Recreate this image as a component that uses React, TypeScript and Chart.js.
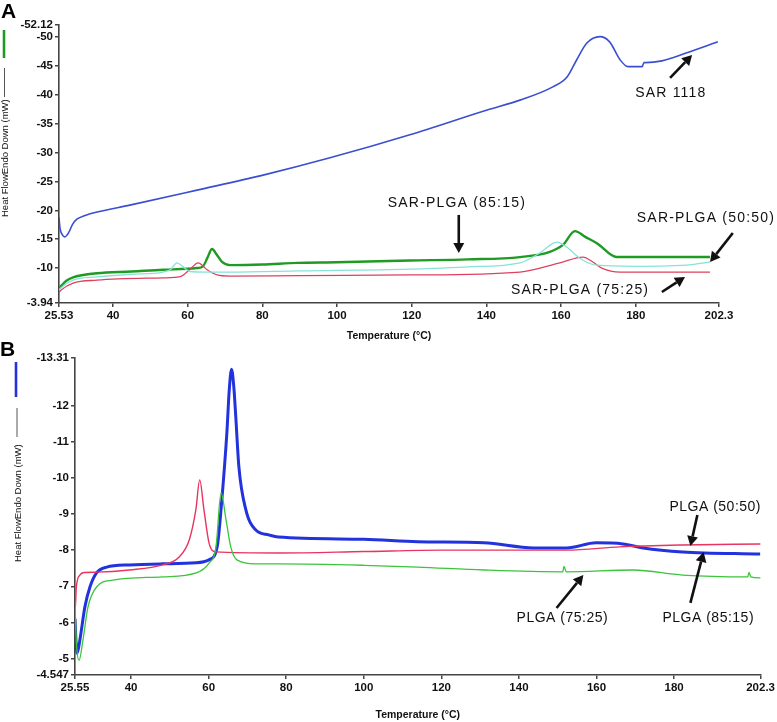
import React, { useEffect, useRef } from 'react';
import { Chart, registerables } from 'chart.js';
Chart.register(...registerables);

const FONT = "'Liberation Sans', Arial, Helvetica, sans-serif";

// ---------- Panel A data ----------
const xTicksA = [25.53, 40, 60, 80, 100, 120, 140, 160, 180, 202.3];
const yTicksA = [-52.12, -50, -45, -40, -35, -30, -25, -20, -15, -10, -3.94];

const sarT = [25.53, 25.8, 26.4, 27.1, 28.0, 29.2, 30.4, 32.5, 35.7, 44.5, 62.5, 80.2, 98.1, 119.5, 140.2, 149, 157.8, 161.6, 164.2, 166.9, 170.4, 173, 175.8, 177.9, 181.7, 182.2, 182.6, 187, 193.7, 202];
const sarY = [-18.8, -16.9, -15.8, -15.4, -16.0, -17.6, -18.5, -19.1, -19.7, -20.9, -23.5, -26.1, -29.1, -33.1, -37.4, -39.1, -41.4, -43.1, -46.1, -49.0, -50.1, -49.2, -46.1, -44.9, -44.9, -45.6, -45.6, -45.9, -47.3, -49.2];

const g8515T = [25.53, 26.1, 27.5, 29.3, 32, 35.7, 45, 53.4, 62.5, 64.1, 65.3, 66.5, 67.8, 69.2, 71.3, 80, 89.3, 100, 119.5, 135, 149, 157, 160.5, 163.7, 166.5, 169.6, 174.9, 185, 199.9];
const g8515Y = [-6.5, -6.9, -7.8, -8.4, -8.8, -9.1, -9.4, -9.7, -10.0, -10.3, -11.8, -13.3, -12.3, -11.05, -10.5, -10.6, -10.9, -11.0, -11.3, -11.5, -11.9, -12.8, -14.0, -16.4, -15.4, -14.3, -11.9, -11.9, -11.9];

const c5050T = [25.53, 26.1, 29.3, 35.7, 45, 53.4, 55.5, 57.1, 58.8, 60.5, 65, 71.3, 90, 119.5, 135, 149, 154.3, 158.9, 161.6, 165, 169.6, 180, 195, 199.9];
const c5050Y = [-6.2, -6.6, -7.9, -8.45, -8.9, -9.3, -9.8, -10.9, -10.2, -9.4, -9.3, -9.3, -9.5, -9.8, -10.2, -10.9, -12.6, -14.5, -13.6, -11.7, -10.5, -10.3, -10.6, -11.05];

const r7525T = [25.53, 26.1, 29.3, 35.7, 53.4, 58, 60.5, 62.8, 65.2, 67.9, 71.3, 90, 119.5, 149, 159.7, 165.9, 168.5, 170.9, 175.8, 199.9];
const r7525Y = [-5.8, -6.2, -7.4, -7.9, -8.3, -8.5, -9.7, -10.9, -9.7, -8.8, -8.6, -8.7, -8.8, -9.3, -10.9, -11.9, -11.05, -10.0, -9.3, -9.3];

// ---------- Panel B data ----------
const xTicksB = [25.55, 40, 60, 80, 100, 120, 140, 160, 180, 202.3];
const yTicksB = [-13.31, -12, -11, -10, -9, -8, -7, -6, -5, -4.547];

const p5050T = [25.55, 25.7, 25.9, 26.8, 28, 31.1, 39.6, 48.1, 52.4, 55, 56.7, 57.7, 58.8, 60.1, 61.8, 78, 100, 120, 140, 152.3, 166, 182, 202.3];
const p5050Y = [-6.3, -6.54, -6.98, -7.31, -7.38, -7.39, -7.45, -7.59, -7.81, -8.28, -9.11, -9.94, -9.11, -8.2, -7.95, -7.92, -7.96, -8.0, -8.0, -8.0, -8.09, -8.14, -8.17];

const p7525T = [25.55, 25.7, 26.0, 26.6, 27.6, 28.9, 31.1, 35.3, 48.1, 56.8, 60.1, 61.9, 63.2, 64.5, 65.7, 67.3, 72.1, 78, 100, 113.9, 131, 151.3, 151.6, 152.2, 169.4, 182.2, 199.0, 199.3, 199.8, 202.3];
const p7525Y = [-6.6, -6.0, -5.3, -4.95, -5.51, -6.43, -6.98, -7.17, -7.26, -7.37, -7.64, -8.09, -9.58, -8.83, -8.09, -7.73, -7.62, -7.62, -7.58, -7.53, -7.45, -7.4, -7.55, -7.4, -7.45, -7.31, -7.26, -7.38, -7.26, -7.23];

const p8515T = [25.55, 25.8, 26.1, 26.8, 28.1, 29.4, 31.1, 33.7, 39.6, 48.1, 56.8, 60.1, 62.2, 63.4, 64.7, 65.3, 65.9, 66.5, 67, 67.8, 69.6, 72.1, 75.5, 78, 100, 113.9, 131, 143.8, 152.3, 159.9, 166.8, 172, 182.2, 202.2];
const p8515Y = [-6.1, -5.5, -5.15, -5.51, -6.43, -6.98, -7.37, -7.53, -7.59, -7.62, -7.65, -7.73, -8.09, -9.39, -11.24, -12.4, -13.0, -12.5, -11.68, -10.3, -9.11, -8.56, -8.42, -8.36, -8.3, -8.23, -8.2, -8.06, -8.06, -8.2, -8.17, -8.06, -7.95, -7.89];

// ---------- annotations (data coordinates) ----------
const annotA = [
  { text: 'SAR 1118', at: [189.4, -40.35], from: [189.2, -42.95], to: [195.1, -46.94] },
  { text: 'SAR-PLGA (85:15)', at: [132.1, -21.28], from: [132.6, -19.2], to: [132.6, -12.61] },
  { text: 'SAR-PLGA (50:50)', at: [198.8, -18.68], from: [206.0, -16.08], to: [199.9, -11.05] },
  { text: 'SAR-PLGA (75:25)', at: [165.1, -6.19], from: [187.0, -5.85], to: [193.2, -8.45] },
];
const annotB = [
  { text: 'PLGA (50:50)', at: [190.6, -9.19], from: [186.0, -8.97], to: [184.2, -8.11] },
  { text: 'PLGA (75:25)', at: [151.2, -6.12], from: [149.7, -6.4], to: [156.6, -7.31] },
  { text: 'PLGA (85:15)', at: [188.8, -6.12], from: [184.2, -6.54], to: [187.6, -7.95] },
];

const pts = (t: number[], y: number[]) => t.map((v, i) => ({ x: v, y: y[i] }));

function drawArrow(ctx: CanvasRenderingContext2D, x1: number, y1: number, x2: number, y2: number) {
  const ang = Math.atan2(y2 - y1, x2 - x1);
  const head = 10, hw = 5.5;
  const bx = x2 - head * Math.cos(ang), by = y2 - head * Math.sin(ang);
  ctx.lineWidth = 2.6;
  ctx.strokeStyle = '#111';
  ctx.fillStyle = '#111';
  ctx.beginPath(); ctx.moveTo(x1, y1); ctx.lineTo(bx, by); ctx.stroke();
  ctx.beginPath();
  ctx.moveTo(x2, y2);
  ctx.lineTo(bx + hw * Math.sin(ang), by - hw * Math.cos(ang));
  ctx.lineTo(bx - hw * Math.sin(ang), by + hw * Math.cos(ang));
  ctx.closePath(); ctx.fill();
}

type Seg = { x: number; y1: number; y2: number; color: string; w: number };
type OverlayCfg = {
  letter: string; lx: number; ly: number;
  titleX: number; titleY: number; segs: Seg[];
  annots: typeof annotA; spacing: string;
};

function overlay(cfg: OverlayCfg) {
  return {
    id: 'overlay',
    afterDraw(chart: any) {
      const ctx: CanvasRenderingContext2D = chart.ctx;
      const xs = chart.scales.x, ys = chart.scales.y;
      ctx.save();
      // panel letter
      ctx.fillStyle = '#000';
      ctx.font = `bold 21px ${FONT}`;
      ctx.textAlign = 'left'; ctx.textBaseline = 'alphabetic';
      ctx.fillText(cfg.letter, cfg.lx, cfg.ly);
      // y title with legend dashes
      ctx.save();
      ctx.translate(cfg.titleX, cfg.titleY);
      ctx.rotate(-Math.PI / 2);
      ctx.font = `9.5px ${FONT}`;
      ctx.fillStyle = '#111';
      ctx.textBaseline = 'middle';
      ctx.fillText('Heat FlowEndo Down (mW)', 0, 0);
      ctx.restore();
      cfg.segs.forEach(s => {
        ctx.strokeStyle = s.color; ctx.lineWidth = s.w;
        ctx.beginPath(); ctx.moveTo(s.x, s.y1); ctx.lineTo(s.x, s.y2); ctx.stroke();
      });
      // annotations
      cfg.annots.forEach(a => {
        ctx.save();
        ctx.font = `14px ${FONT}`;
        (ctx as any).letterSpacing = cfg.spacing;
        ctx.fillStyle = '#111';
        ctx.textAlign = 'center'; ctx.textBaseline = 'middle';
        ctx.fillText(a.text, xs.getPixelForValue(a.at[0]), ys.getPixelForValue(a.at[1]));
        ctx.restore();
        drawArrow(ctx, xs.getPixelForValue(a.from[0]), ys.getPixelForValue(a.from[1]),
          xs.getPixelForValue(a.to[0]), ys.getPixelForValue(a.to[1]));
      });
      ctx.restore();
    },
  };
}

function makeConfig(opts: {
  datasets: any[]; xTicks: number[]; yTicks: number[];
  yWidth: number; xHeight: number; padTop: number; padRight: number; titlePad: number;
  ov: OverlayCfg;
}) {
  const { xTicks, yTicks } = opts;
  const axisCommon = {
    grid: { display: true, drawOnChartArea: false, drawTicks: true, tickLength: 4, color: '#444', lineWidth: 1.5 },
    border: { display: true, color: '#444', width: 1.6 },
  };
  return {
    type: 'line',
    data: { datasets: opts.datasets },
    options: {
      animation: false,
      responsive: false,
      maintainAspectRatio: false,
      events: [],
      layout: { padding: { top: opts.padTop, right: opts.padRight, bottom: 0, left: 0 }, autoPadding: false },
      plugins: { legend: { display: false }, tooltip: { enabled: false } },
      elements: { point: { radius: 0 }, line: { cubicInterpolationMode: 'monotone' } },
      scales: {
        x: {
          type: 'linear',
          min: xTicks[0], max: xTicks[xTicks.length - 1],
          ...axisCommon,
          afterBuildTicks: (s: any) => { s.ticks = xTicks.map(v => ({ value: v })); },
          afterFit: (s: any) => { s.height = opts.xHeight; },
          ticks: {
            autoSkip: false, maxRotation: 0, minRotation: 0, padding: 2,
            color: '#111', font: { family: FONT, size: 11.5, weight: 'bold' },
            callback: (v: any) => String(v),
          },
          title: {
            display: true, text: 'Temperature (°C)', color: '#111',
            font: { family: FONT, size: 10.5, weight: 'bold' },
            padding: { top: 0, bottom: opts.titlePad },
          },
        },
        y: {
          type: 'linear', reverse: true,
          min: yTicks[0], max: yTicks[yTicks.length - 1],
          ...axisCommon,
          afterBuildTicks: (s: any) => { s.ticks = yTicks.map(v => ({ value: v })); },
          afterFit: (s: any) => { s.width = opts.yWidth; },
          ticks: {
            autoSkip: false, padding: 2,
            color: '#111', font: { family: FONT, size: 11.5, weight: 'bold' },
            callback: (v: any) => String(v),
          },
        },
      },
    },
    plugins: [overlay(opts.ov)],
  };
}

const configA = () => makeConfig({
  datasets: [
    { data: pts(c5050T, c5050Y), borderColor: '#86e3d6', borderWidth: 1.3 },
    { data: pts(r7525T, r7525Y), borderColor: '#e0405e', borderWidth: 1.3 },
    { data: pts(g8515T, g8515Y), borderColor: '#1f9a22', borderWidth: 2.4 },
    { data: pts(sarT, sarY), borderColor: '#3a4fd0', borderWidth: 1.6 },
  ],
  xTicks: xTicksA, yTicks: yTicksA,
  yWidth: 59, xHeight: 42, padTop: 25, padRight: 58, titlePad: 3,
  ov: {
    letter: 'A', lx: 1, ly: 18, titleX: 5.5, titleY: 217,
    segs: [
      { x: 4.5, y1: 68, y2: 97, color: '#555', w: 1 },
      { x: 4, y1: 30, y2: 58, color: '#1f9a22', w: 2.6 },
    ],
    annots: annotA, spacing: '1.2px',
  },
});

const B_TOP = 335;
const configB = () => makeConfig({
  datasets: [
    { data: pts(p7525T, p7525Y), borderColor: '#3cc43c', borderWidth: 1.3 },
    { data: pts(p5050T, p5050Y), borderColor: '#e8345e', borderWidth: 1.4 },
    { data: pts(p8515T, p8515Y), borderColor: '#2233dd', borderWidth: 3 },
  ],
  xTicks: xTicksB, yTicks: yTicksB,
  yWidth: 75, xHeight: 387 - (675 - B_TOP), padTop: 358 - B_TOP, padRight: 777 - 766, titlePad: 1,
  ov: {
    letter: 'B', lx: 0, ly: 356 - B_TOP, titleX: 18, titleY: 562 - B_TOP,
    segs: [
      { x: 17, y1: 408 - B_TOP, y2: 437 - B_TOP, color: '#555', w: 1 },
      { x: 16, y1: 362 - B_TOP, y2: 397 - B_TOP, color: '#2233dd', w: 2.6 },
    ],
    annots: annotB, spacing: '0.5px',
  },
});

function Panel({ top, height, config }: { top: number; height: number; config: () => any }) {
  const ref = useRef<HTMLCanvasElement>(null);
  useEffect(() => {
    const chart = new Chart(ref.current as HTMLCanvasElement, config());
    return () => chart.destroy();
  }, []);
  return (
    <canvas ref={ref} width={777} height={height}
      style={{ position: 'absolute', left: 0, top, width: 777, height, display: 'block' }} />
  );
}

export default function App() {
  return (
    <div style={{ position: 'absolute', left: 0, top: 0, width: 777, height: 722, background: '#fff', overflow: 'hidden' }}>
      <Panel top={0} height={345} config={configA} />
      <Panel top={B_TOP} height={387} config={configB} />
    </div>
  );
}
